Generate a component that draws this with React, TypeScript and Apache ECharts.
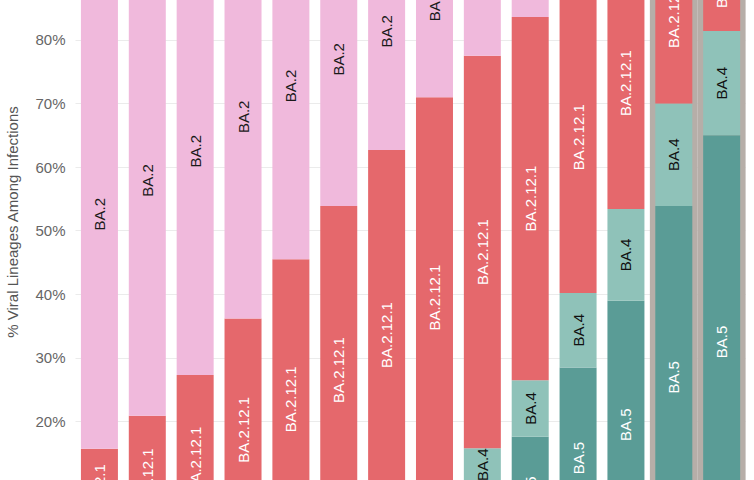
import React, { useEffect, useRef } from "react";
import * as echarts from "echarts";

const weeks = ["4/9/22", "4/16/22", "4/23/22", "4/30/22", "5/7/22", "5/14/22", "5/21/22", "5/28/22", "6/4/22", "6/11/22", "6/18/22", "6/25/22", "7/2/22", "7/9/22"];
const ba5 = [0.2, 0.1, 0.3, 0.5, 0.6, 1.0, 2.0, 3.8, 10.6, 17.6, 28.5, 39.0, 53.9, 65.0];
const ba4 = [0.3, 0.2, 0.4, 0.7, 0.9, 1.3, 2.5, 4.2, 5.2, 8.9, 11.7, 14.4, 16.1, 16.4];
const ba2121 = [15.2, 20.6, 26.6, 35.0, 44.0, 51.6, 58.2, 63.0, 61.7, 57.1, 49.0, 39.6, 27.8, 17.6];
const ba2 = [73.8, 74.0, 70.4, 63.4, 54.5, 46.1, 37.3, 29.0, 22.5, 16.4, 10.8, 7.0, 2.2, 1.0];
const other = [10.5, 5.1, 2.3, 0.4, 0, 0, 0, 0, 0, 0, 0, 0, 0, 0];
const nowcast = [null, null, null, null, null, null, null, null, null, null, null, null, 100, 100];
const yTicks = [0, 10, 20, 30, 40, 50, 60, 70, 80, 90, 100];

const FONT = "Arial, 'Liberation Sans', sans-serif";

function seg(name: string, data: number[], color: string, textColor: string, labelled = true) {
  return {
    name,
    type: "bar",
    stack: "total",
    data,
    barWidth: 37,
    itemStyle: { color },
    z: 3,
    label: {
      show: labelled,
      position: "inside",
      rotate: 90,
      fontFamily: FONT,
      fontSize: 15,
      color: textColor,
      formatter: (p: any) => (p.value >= 5 ? name : ""),
    },
  };
}

export default function App() {
  const ref = useRef<HTMLDivElement>(null);
  useEffect(() => {
    if (!ref.current) return;
    const chart = echarts.init(ref.current, null, { renderer: "svg" });
    chart.setOption({
      animation: false,
      backgroundColor: "#ffffff",
      grid: { left: 75.5, right: 8.4, top: -87.3, bottom: -68.7, containLabel: false, outerBoundsMode: "none" },
      xAxis: [
        {
          type: "category",
          data: weeks,
          axisLine: { show: false },
          axisTick: { show: false },
          axisLabel: { show: false },
        },
        {
          type: "category",
          data: weeks,
          show: false,
        },
      ],
      yAxis: {
        type: "value",
        min: yTicks[0],
        max: yTicks[yTicks.length - 1],
        interval: 10,
        axisLine: { show: false },
        axisTick: { show: false },
        axisLabel: { formatter: "{value}%", color: "#666666", fontSize: 15, fontFamily: FONT, margin: 10 },
        splitLine: { lineStyle: { color: "#ebebeb", width: 1 } },
      },
      graphic: [
        {
          type: "text",
          x: 12,
          y: 222,
          rotation: Math.PI / 2,
          style: {
            text: "% Viral Lineages Among Infections",
            align: "center",
            verticalAlign: "middle",
            fontSize: 15,
            fontFamily: FONT,
            fill: "#555555",
          },
        },
      ],
      series: [
        {
          name: "Nowcast",
          type: "bar",
          xAxisIndex: 1,
          data: nowcast,
          barWidth: "100%",
          itemStyle: { color: "#b6aea8" },
          z: 1,
          silent: true,
        },
        seg("BA.5", ba5, "#5a9c96", "#ffffff"),
        seg("BA.4", ba4, "#8fc2b9", "#111111"),
        seg("BA.2.12.1", ba2121, "#e5686c", "#ffffff"),
        seg("BA.2", ba2, "#f0b9dc", "#1a1a1a"),
        seg("Other", other, "#cccccc", "#333333", false),
      ],
    });
    return () => chart.dispose();
  }, []);
  return <div ref={ref} style={{ position: "absolute", left: 0, top: 0, width: 754, height: 480 }} />;
}
